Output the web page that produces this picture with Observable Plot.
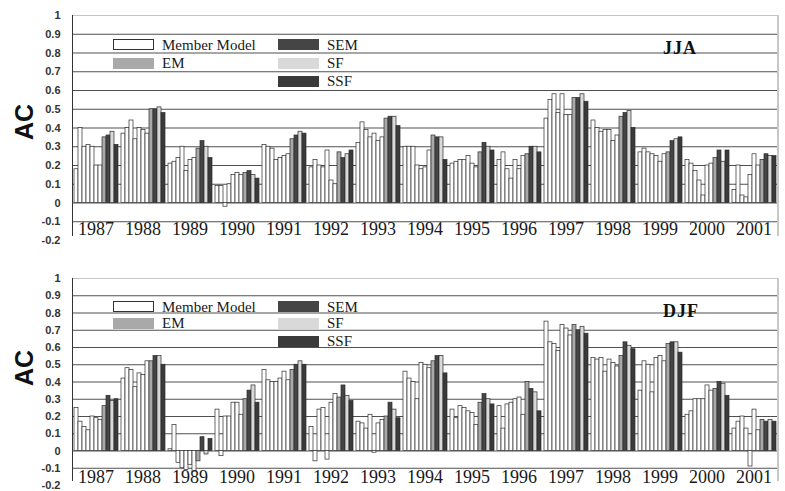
<!DOCTYPE html>
<html><head><meta charset="utf-8">
<script src="https://cdn.jsdelivr.net/npm/d3@7"></script>
<script src="https://cdn.jsdelivr.net/npm/@observablehq/plot@0.6"></script>
<style>
body{margin:0;background:#fff;}
#wrap{position:relative;width:785px;height:491px;overflow:hidden;background:#fff;}
.panel{position:absolute;left:0;width:785px;}
.sw{position:absolute;width:41px;height:11px;box-sizing:border-box;}
.lt{position:absolute;font-family:"Liberation Serif",serif;font-size:15px;color:#1a1a1a;line-height:1;transform:translateY(-50%);white-space:nowrap;}
.tag{position:absolute;font-family:"Liberation Serif",serif;font-weight:bold;font-size:18px;letter-spacing:1px;color:#111;line-height:1;transform:translateY(-50%);}
.ac{position:absolute;font-family:"Liberation Sans",Arial,sans-serif;font-weight:bold;font-size:25px;color:#111;transform:translate(-50%,-50%) rotate(-90deg);line-height:1;}
.vline{position:absolute;width:1px;}
</style>
</head><body>
<div id="wrap"></div>
<script>
const years = [1987,1988,1989,1990,1991,1992,1993,1994,1995,1996,1997,1998,1999,2000,2001];
const kinds = ["Member Model","EM","SEM","SF","SSF"];
const kindFills = ["#ffffff","#a9a9a9","#454545","#d9d9d9","#3a3a3a"];
const yTicks = [1,0.9,0.8,0.7,0.6,0.5,0.4,0.3,0.2,0.1,0,-0.1,-0.2];
const gridTicks = [0.9,0.8,0.7,0.6,0.5,0.4,0.3,0.2,0.1,0,-0.1];

// JJA: seven member models per year, then EM, SEM, SF, SSF
const jjaMembers = [
  [0.18,0.40,0.30,0.31,0.30,0.20,0.20],
  [0.37,0.40,0.44,0.34,0.40,0.39,0.37],
  [0.21,0.22,0.24,0.30,0.17,0.23,0.24],
  [0.09,0.09,-0.02,0.10,0.15,0.16,0.15],
  [0.31,0.30,0.29,0.23,0.24,0.25,0.26],
  [0.19,0.23,0.20,0.19,0.28,0.12,0.10],
  [0.32,0.43,0.39,0.35,0.37,0.33,0.35],
  [0.30,0.30,0.30,0.20,0.18,0.19,0.28],
  [0.21,0.22,0.23,0.23,0.25,0.21,0.19],
  [0.23,0.27,0.18,0.13,0.23,0.18,0.25],
  [0.45,0.55,0.58,0.48,0.58,0.47,0.47],
  [0.44,0.40,0.38,0.39,0.39,0.33,0.36],
  [0.27,0.29,0.27,0.26,0.25,0.22,0.26],
  [0.23,0.21,0.17,0.12,0.04,0.20,0.21],
  [0.07,0.20,0.04,0.03,0.15,0.26,0.20]
];
const jjaEM  = [0.35,0.50,0.29,0.16,0.34,0.27,0.45,0.36,0.27,0.26,0.56,0.46,0.27,0.24,0.23];
const jjaSEM = [0.36,0.50,0.33,0.17,0.36,0.24,0.46,0.35,0.32,0.30,0.56,0.48,0.33,0.28,0.26];
const jjaSF  = [0.38,0.51,0.30,0.15,0.38,0.26,0.46,0.35,0.30,0.30,0.58,0.49,0.34,0.22,0.25];
const jjaSSF = [0.31,0.48,0.24,0.13,0.37,0.28,0.41,0.23,0.28,0.27,0.54,0.40,0.35,0.28,0.25];

// DJF
const djfMembers = [
  [0.25,0.17,0.14,0.12,0.20,0.19,0.18],
  [0.42,0.48,0.47,0.37,0.45,0.44,0.52],
  [0.01,0.15,-0.07,-0.10,-0.11,-0.08,-0.12],
  [0.24,-0.03,0.20,0.20,0.28,0.28,0.21],
  [0.47,0.41,0.40,0.40,0.42,0.46,0.41],
  [0.14,-0.06,0.24,0.25,-0.05,0.28,0.33],
  [0.17,0.16,0.13,0.21,-0.01,0.16,0.18],
  [0.46,0.42,0.40,0.30,0.51,0.50,0.48],
  [0.24,0.19,0.26,0.25,0.23,0.22,0.15],
  [0.26,0.13,0.27,0.28,0.30,0.31,0.21],
  [0.75,0.63,0.62,0.58,0.73,0.71,0.67],
  [0.54,0.53,0.54,0.46,0.53,0.51,0.49],
  [0.35,0.52,0.50,0.34,0.54,0.55,0.52],
  [0.21,0.23,0.30,0.30,0.30,0.38,0.35],
  [0.13,0.17,0.20,0.13,-0.09,0.24,0.12]
];
const djfEM  = [0.26,0.52,-0.06,0.30,0.47,0.31,0.20,0.52,0.28,0.40,0.73,0.55,0.62,0.36,0.18];
const djfSEM = [0.32,0.55,0.08,0.35,0.50,0.38,0.28,0.55,0.33,0.36,0.70,0.63,0.63,0.40,0.17];
const djfSF  = [0.29,0.55,-0.02,0.38,0.52,0.32,0.24,0.55,0.30,0.34,0.72,0.61,0.63,0.39,0.18];
const djfSSF = [0.30,0.50,0.07,0.28,0.50,0.29,0.19,0.45,0.27,0.23,0.68,0.59,0.57,0.32,0.17];

function buildRows(members, em, sem, sf, ssf) {
  const rows = [];
  years.forEach((yr, i) => {
    members[i].forEach((v, j) => rows.push({year: yr, idx: j, kind: "Member Model", value: v}));
    const n = members[i].length;
    rows.push({year: yr, idx: n,     kind: "EM",  value: em[i]});
    rows.push({year: yr, idx: n + 1, kind: "SEM", value: sem[i]});
    rows.push({year: yr, idx: n + 2, kind: "SF",  value: sf[i]});
    rows.push({year: yr, idx: n + 3, kind: "SSF", value: ssf[i]});
  });
  return rows;
}

const fmt = d => String(+d.toFixed(1));
const wrap = document.getElementById("wrap");

function makePanel(cfg) {
  const rows = buildRows(...cfg.data);
  const chart = Plot.plot({
    width: 785, height: cfg.height,
    marginLeft: 72, marginRight: 8, marginTop: cfg.mt, marginBottom: cfg.mb,
    style: {background: "transparent", overflow: "visible"},
    fx: {domain: years, padding: 0, label: null},
    x: {domain: d3.range(11), paddingInner: 0, paddingOuter: 0.12, axis: null},
    y: {domain: [-0.2, 1]},
    color: {domain: kinds, range: kindFills},
    marks: [
      Plot.ruleY(gridTicks, {stroke: "#505050", strokeWidth: 1.1}),
      Plot.ruleY([1], {stroke: "#c4c4c4", strokeWidth: 1.2}),
      Plot.barY(rows, {fx: "year", x: "idx", y1: 0, y2: "value", fill: "kind", stroke: "#2b2b2b", strokeWidth: 0.7}),
      Plot.axisY(yTicks, {tickSize: 0, tickPadding: 12, tickFormat: fmt, fontSize: 11, fontWeight: "bold",
        fontFamily: "Liberation Sans, Arial, sans-serif", fill: "#333", label: null}),
      Plot.axisFx({anchor: "bottom", tickSize: 0, dy: cfg.labelDy, fontSize: 18, tickFormat: d => String(d),
        fontFamily: "Liberation Serif, serif", fill: "#1a1a1a", label: null})
    ]
  });
  const div = document.createElement("div");
  div.className = "panel";
  div.style.top = cfg.top + "px";
  div.style.height = cfg.height + "px";
  div.appendChild(chart);
  wrap.appendChild(div);

  const add = (cls, css, text) => {
    const e = document.createElement("div");
    e.className = cls;
    Object.assign(e.style, css);
    if (text) e.textContent = text;
    div.appendChild(e);
    return e;
  };
  // axis lines
  add("vline", {left: "72px", top: cfg.mt + "px", height: (cfg.height - cfg.mt - cfg.mb - 4) + "px", background: "#333"});
  add("vline", {left: "777px", top: cfg.mt + "px", height: (cfg.height - cfg.mt - cfg.mb - 4) + "px", background: "#c8c8c8", width: "2px"});
  // y label
  add("ac", {left: "24px", top: cfg.acY + "px"}, "AC");
  // legend
  const L = cfg.leg;
  const sw = (x, y, fill, border) => add("sw", {left: x + "px", top: y + "px", background: fill, border: border});
  sw(113, L[0], kindFills[0], "1.3px solid #333");
  sw(113, L[1], kindFills[1], "none");
  sw(278, L[0], kindFills[2], "none");
  sw(278, L[1], kindFills[3], "none");
  sw(278, L[2], kindFills[4], "none");
  add("lt", {left: "162px", top: (L[0] + 6) + "px"}, kinds[0]);
  add("lt", {left: "162px", top: (L[1] + 5) + "px"}, kinds[1]);
  add("lt", {left: "327px", top: (L[0] + 6) + "px"}, kinds[2]);
  add("lt", {left: "327px", top: (L[1] + 5) + "px"}, kinds[3]);
  add("lt", {left: "327px", top: (L[2] + 5) + "px"}, kinds[4]);
  add("tag", {left: "663px", top: cfg.tagY + "px"}, cfg.tag);
}

makePanel({top: 0, height: 250, mt: 15, mb: 10, labelDy: -27, acY: 122,
  leg: [39, 58, 76], tag: "JJA", tagY: 48,
  data: [jjaMembers, jjaEM, jjaSEM, jjaSF, jjaSSF]});
makePanel({top: 250, height: 241, mt: 28, mb: 6, labelDy: -24, acY: 118,
  leg: [51, 68, 86], tag: "DJF", tagY: 61,
  data: [djfMembers, djfEM, djfSEM, djfSF, djfSSF]});
</script>
</body></html>
